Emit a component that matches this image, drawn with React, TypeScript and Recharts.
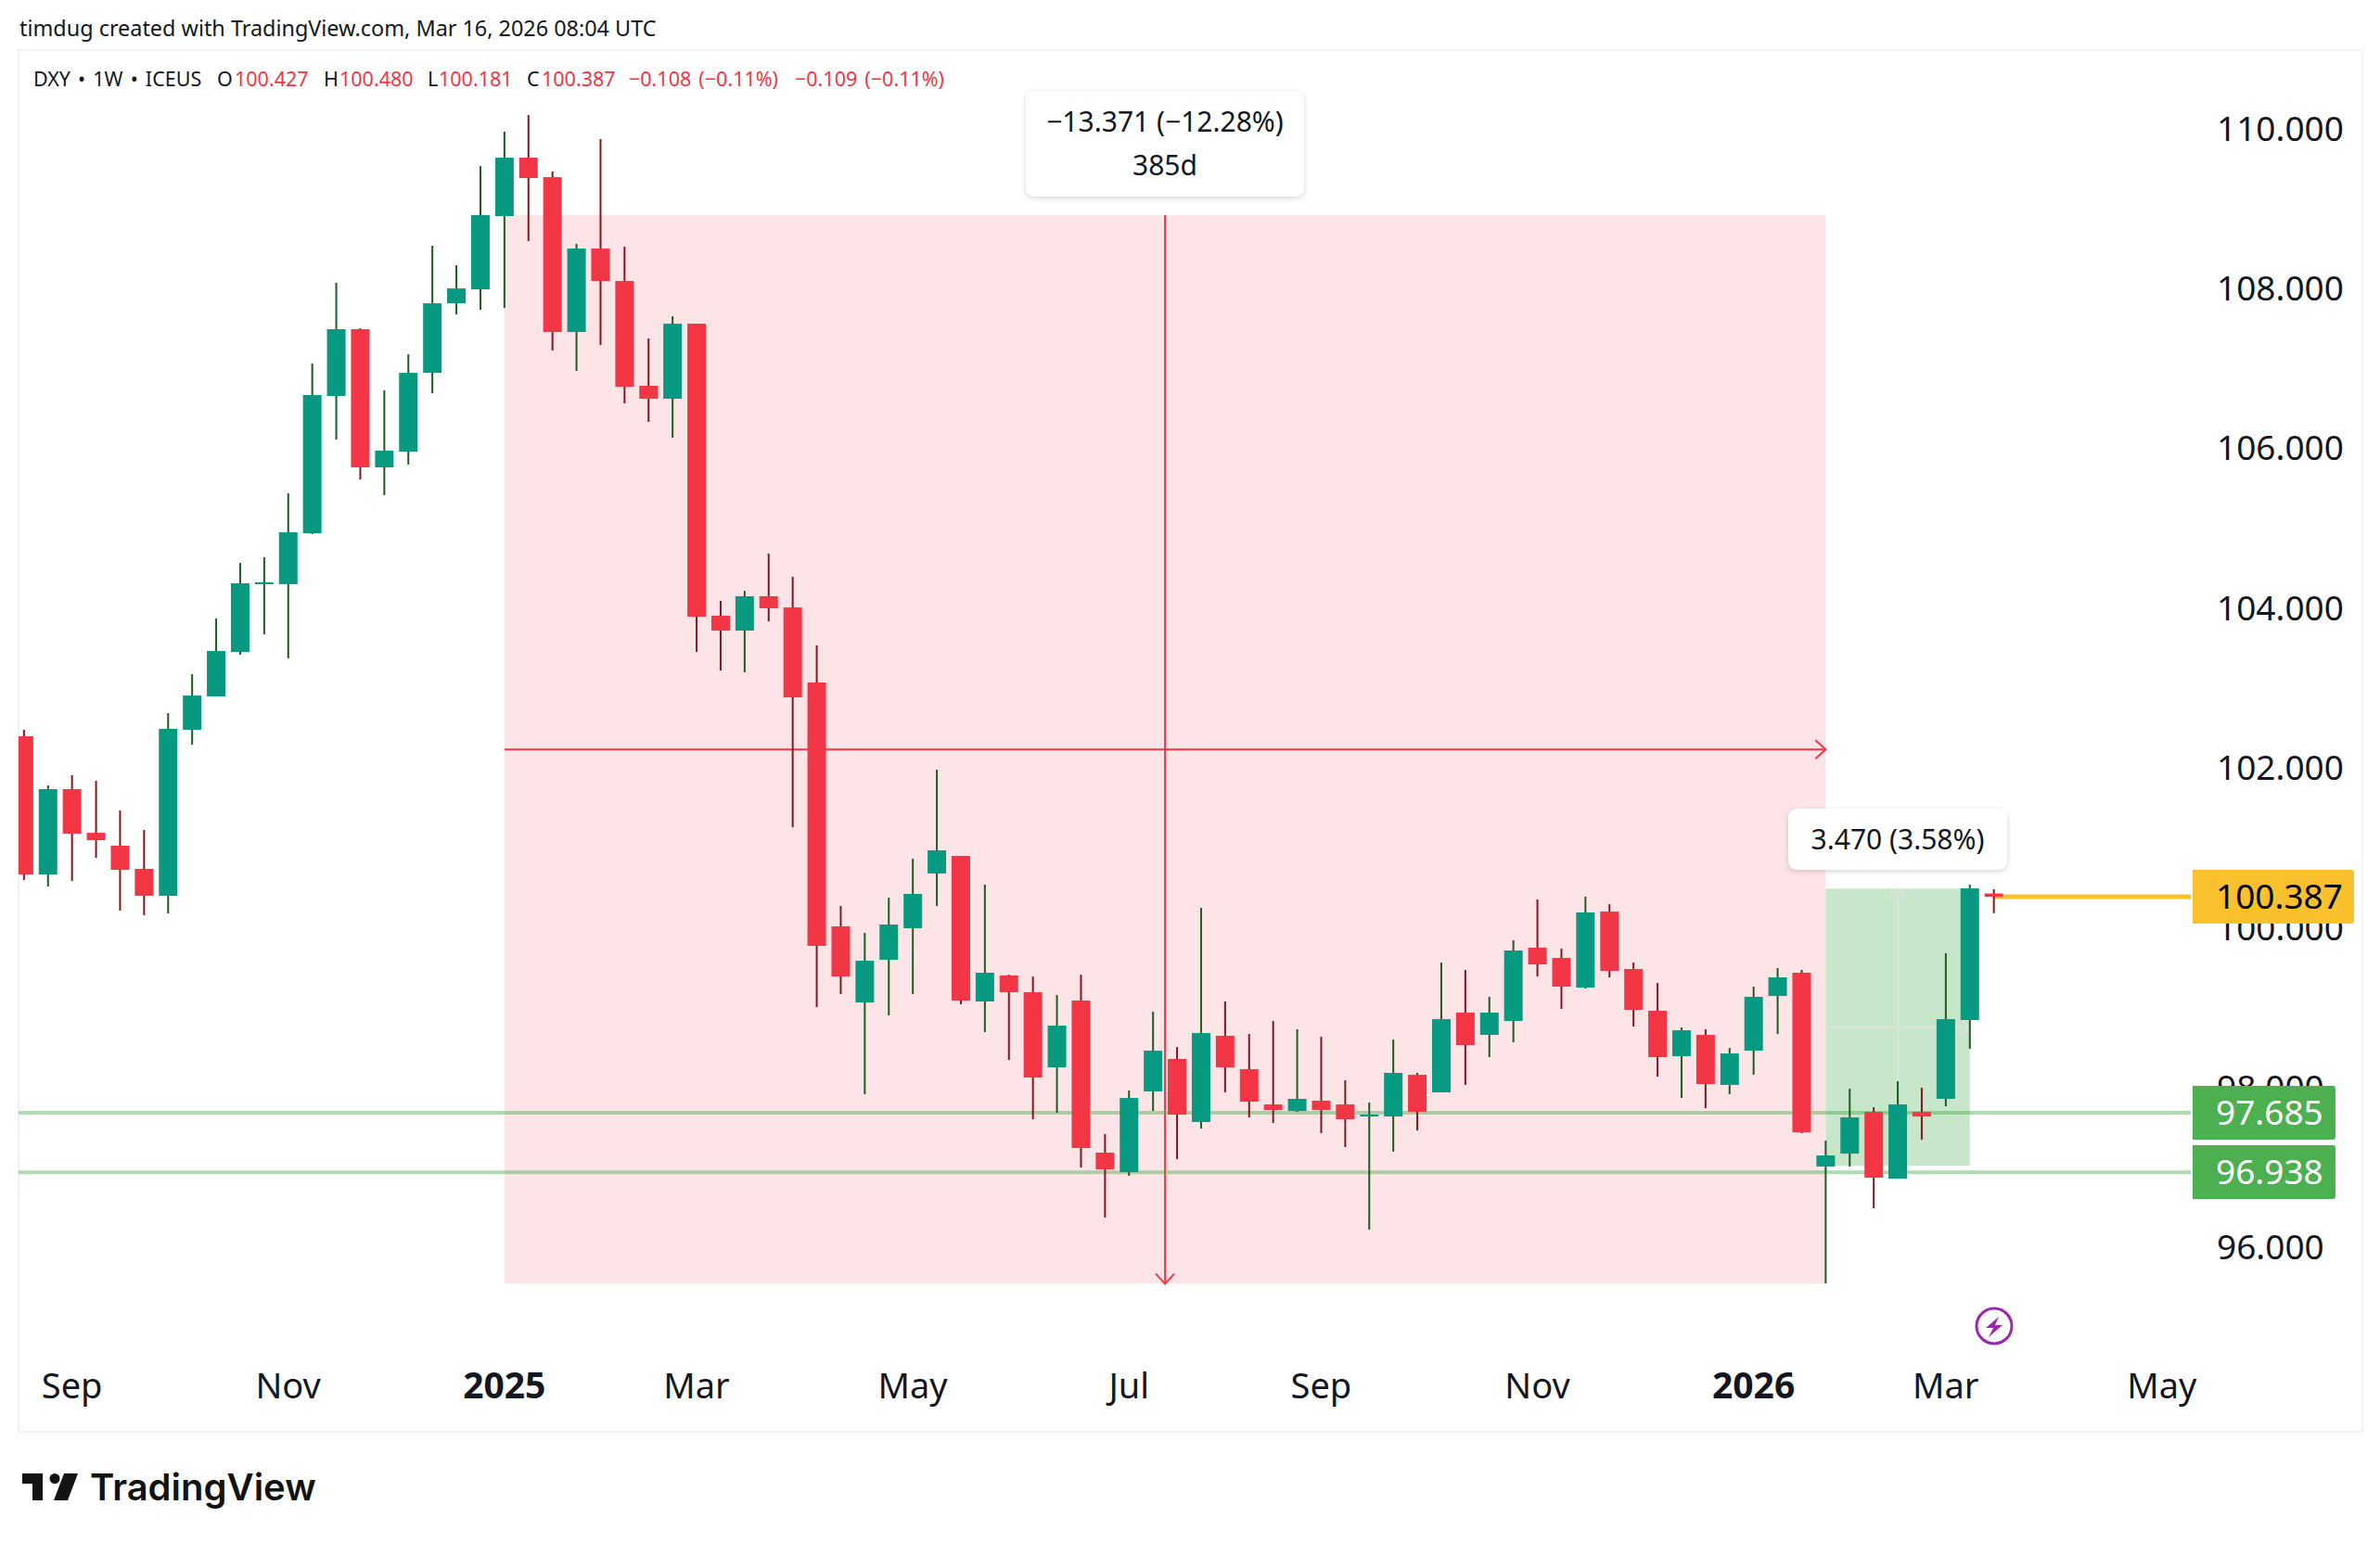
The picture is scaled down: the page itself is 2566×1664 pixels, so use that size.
import { ComposedChart, Bar, XAxis, YAxis, ReferenceArea, ReferenceLine } from 'recharts'

// weekly DXY candles, oldest first
const opens = [
  102.394, 100.665, 101.733, 101.187, 101.025, 100.735, 100.398, 102.475, 102.893, 103.45, 104.296, 104.296,
  104.934, 106.651, 107.487, 105.758, 105.955, 106.941, 107.811, 107.985, 108.902, 109.633, 109.389, 107.452,
  108.496, 108.09, 106.779, 106.617, 107.556, 103.902, 103.716, 104.146, 104.006, 103.067, 100.016, 99.064,
  99.598, 99.992, 100.677, 100.897, 99.076, 99.401, 99.192, 98.252, 99.088, 97.185, 96.941, 97.951, 98.357,
  97.568, 98.647, 98.229, 97.788, 97.707, 97.835, 97.788, 97.637, 97.637, 98.159, 97.939, 98.937, 98.658,
  98.832, 99.749, 99.621, 99.25, 100.201, 99.482, 98.96, 98.391, 98.658, 98.032, 98.461, 99.145, 99.436,
  97.011, 97.173, 97.695, 96.86, 97.695, 97.858, 98.844, 100.427,
]
const highs = [
  102.475, 101.779, 101.907, 101.837, 101.466, 101.222, 102.684, 103.171, 103.867, 104.563, 104.633, 105.433,
  107.057, 108.067, 107.498, 106.721, 107.173, 108.531, 108.287, 109.528, 109.958, 110.166, 109.459, 108.554,
  109.865, 108.519, 107.371, 107.649, 107.556, 104.088, 104.215, 104.679, 104.389, 103.531, 100.271, 99.934,
  100.375, 100.862, 101.976, 100.897, 100.538, 99.412, 99.389, 99.157, 99.412, 97.417, 97.962, 98.948, 98.507,
  100.248, 99.076, 98.67, 98.832, 98.728, 98.635, 98.09, 97.812, 98.6, 98.183, 99.563, 99.47, 99.134, 99.842,
  100.352, 99.737, 100.387, 100.294, 99.563, 99.308, 98.751, 98.728, 98.496, 99.262, 99.494, 99.47, 97.336,
  97.985, 97.753, 98.078, 97.997, 99.679, 100.538, 100.48,
]
const lows = [
  100.596, 100.514, 100.584, 100.874, 100.213, 100.155, 100.178, 102.289, 102.893, 103.415, 103.67, 103.368,
  104.923, 106.106, 105.607, 105.41, 105.793, 106.686, 107.672, 107.73, 107.753, 108.589, 107.22, 106.965,
  107.289, 106.559, 106.327, 106.129, 103.45, 103.217, 103.194, 103.832, 101.257, 99.006, 99.169, 97.916,
  98.902, 99.169, 100.271, 99.041, 98.693, 98.345, 97.603, 97.684, 96.999, 96.373, 96.895, 97.707, 97.104,
  97.487, 97.939, 97.626, 97.556, 97.695, 97.429, 97.255, 96.222, 97.197, 97.463, 97.939, 98.032, 98.38,
  98.565, 99.389, 98.983, 99.238, 99.378, 98.763, 98.136, 97.869, 97.742, 97.916, 98.159, 98.67, 97.429,
  95.549, 97.011, 96.489, 96.86, 97.347, 97.765, 98.484, 100.181,
]
const closes = [
  100.665, 101.733, 101.176, 101.094, 100.723, 100.398, 102.487, 102.904, 103.461, 104.308, 104.32, 104.946,
  106.663, 107.487, 105.758, 105.967, 106.941, 107.811, 107.997, 108.914, 109.633, 109.378, 107.452, 108.496,
  108.09, 106.767, 106.617, 107.556, 103.89, 103.716, 104.146, 103.995, 102.881, 99.772, 99.389, 99.586,
  100.039, 100.422, 100.967, 99.088, 99.436, 99.192, 98.125, 98.774, 97.243, 96.976, 97.869, 98.461, 97.661,
  98.681, 98.252, 97.823, 97.719, 97.858, 97.719, 97.603, 97.661, 98.183, 97.695, 98.855, 98.531, 98.937,
  99.714, 99.54, 99.262, 100.19, 99.459, 98.972, 98.38, 98.716, 98.043, 98.426, 99.134, 99.378, 97.44, 97.15,
  97.626, 96.872, 97.788, 97.637, 98.855, 100.491, 100.387,
]

const xTicks = [2, 11, 20, 28, 37, 46, 54, 63, 72, 80, 89]
const xTickLabels = ['Sep', 'Nov', '2025', 'Mar', 'May', 'Jul', 'Sep', 'Nov', '2026', 'Mar', 'May']
const yTicks = [96, 98, 100, 102, 104, 106, 108, 110]

const supportLevels = [97.685, 96.938]
const lastPrice = 100.387

// measure tools: [start bar, end bar, low, high]
const downMeasure = [20, 75, 95.543, 108.914]
const upMeasure = [75, 81, 97.02, 100.49]

const legendItems = [
  { left: 36, text: 'DXY • 1W • ICEUS', color: '#131722' },
  { left: 234, text: 'O', color: '#131722' },
  { left: 253, text: '100.427', color: '#f23645' },
  { left: 349, text: 'H', color: '#131722' },
  { left: 366, text: '100.480', color: '#f23645' },
  { left: 461, text: 'L', color: '#131722' },
  { left: 473, text: '100.181', color: '#f23645' },
  { left: 568, text: 'C', color: '#131722' },
  { left: 584, text: '100.387', color: '#f23645' },
  { left: 678, text: '−0.108 (−0.11%)', color: '#f23645' },
  { left: 857, text: '−0.109 (−0.11%)', color: '#f23645' },
]

const FONT = '"Noto Sans", sans-serif'
const UP = '#089981'
const DOWN = '#f23645'
const UP_WICK = '#1b5e20'
const DOWN_WICK = '#801922'

const candles = opens.map((open, i) => ({
  i,
  open,
  high: highs[i],
  low: lows[i],
  close: closes[i],
  range: [lows[i], highs[i]],
}))

const Candle = (props: any) => {
  const { x, y, width, height, payload } = props
  const { open, high, low, close } = payload
  const perUnit = height / (high - low)
  const up = close >= open
  const top = y + (high - Math.max(open, close)) * perUnit
  const bodyHeight = Math.max(Math.abs(close - open) * perUnit, 2)
  return (
    <g>
      <rect x={x + width / 2 - 1} y={y} width={2} height={height} fill={up ? UP_WICK : DOWN_WICK} />
      <rect x={x} y={top} width={width} height={bodyHeight} fill={up ? UP : DOWN} />
    </g>
  )
}

const ArrowLine = (props: any) => {
  const { x1, y1, x2, y2, stroke } = props
  const horizontal = Math.abs(y2 - y1) < 1
  const dir = horizontal ? Math.sign(x2 - x1) : Math.sign(y2 - y1)
  const head = horizontal
    ? `${x2 - dir * 11},${y2 - 10} ${x2},${y2} ${x2 - dir * 11},${y2 + 10}`
    : `${x2 - 10},${y2 - dir * 11} ${x2},${y2} ${x2 + 10},${y2 - dir * 11}`
  return (
    <g>
      <line x1={x1} y1={y1} x2={x2} y2={y2} stroke={stroke} strokeWidth={2} />
      <polyline points={head} fill="none" stroke={stroke} strokeWidth={2} />
    </g>
  )
}

const TimeTick = ({ x, y, payload }: any) => {
  const label = xTickLabels[xTicks.indexOf(payload.value)]
  const isYear = /^\d+$/.test(label)
  return (
    <text x={x} y={y} textAnchor="middle" fontFamily={FONT} fontSize={isYear ? 39 : 38} fontWeight={isYear ? 700 : 400} fill="#131722">
      {label}
    </text>
  )
}

const PriceTag = ({ top, width, bg, color, text }: any) => (
  <div
    style={{
      position: 'absolute',
      left: 2364,
      top,
      width,
      height: 58,
      background: bg,
      color,
      borderRadius: '0 3px 3px 0',
      fontFamily: FONT,
      fontSize: 37,
      lineHeight: '56px',
      paddingLeft: 25,
      boxSizing: 'border-box',
    }}
  >
    {text}
  </div>
)

const Note = ({ left, top, width, height, lines }: any) => (
  <div
    style={{
      position: 'absolute',
      left,
      top,
      width,
      height,
      background: '#fff',
      borderRadius: 9,
      boxShadow: '0 2px 6px rgba(0,0,0,0.16)',
      fontFamily: FONT,
      fontSize: 30,
      lineHeight: '47px',
      color: '#131722',
      textAlign: 'center',
      paddingTop: 9,
      boxSizing: 'border-box',
    }}
  >
    {lines.map((l: string) => (
      <div key={l}>{l}</div>
    ))}
  </div>
)

export default function App() {
  const mid = (m: number[]) => (m[2] + m[3]) / 2
  const midBar = (m: number[]) => (m[0] + m[1]) / 2

  return (
    <div style={{ position: 'absolute', left: 0, top: 0, width: 2566, height: 1664, background: '#fff', overflow: 'hidden' }}>
      <div style={{ position: 'absolute', left: 21, top: 12, fontFamily: FONT, fontSize: 23.4, lineHeight: '36px', color: '#131722', whiteSpace: 'nowrap' }}>
        timdug created with TradingView.com, Mar 16, 2026 08:04 UTC
      </div>

      {/* chart frame */}
      <div style={{ position: 'absolute', left: 19, top: 53, width: 2529, height: 1492, border: '2px solid #f0f3fa', boxSizing: 'border-box' }} />

      <div style={{ position: 'absolute', left: 0, top: 0 }}>
        <ComposedChart
          width={2566}
          height={1664}
          data={candles}
          margin={{ top: 54, right: 18, bottom: 119, left: 20 }}
        >
          <XAxis
            dataKey="i"
            type="number"
            domain={[-0.224, 90.2]}
            allowDataOverflow
            ticks={xTicks}
            interval={0}
            axisLine={false}
            tickLine={false}
            height={85}
            tickMargin={42}
            tick={<TimeTick />}
          />
          <YAxis
            orientation="right"
            domain={[94.668, 110.979]}
            allowDataOverflow
            ticks={yTicks}
            interval={0}
            width={186}
            axisLine={false}
            tickLine={false}
            tickMargin={22}
            tickFormatter={(v: number) => v.toFixed(3)}
            tick={{ fontFamily: FONT, fontSize: 37, fill: '#131722', textAnchor: 'start' }}
          />

          <ReferenceArea
            x1={downMeasure[0]}
            x2={downMeasure[1]}
            y1={downMeasure[2]}
            y2={downMeasure[3]}
            fill="#fde4e7"
            fillOpacity={1}
            stroke="none"
          />
          <ReferenceArea
            x1={upMeasure[0]}
            x2={upMeasure[1]}
            y1={upMeasure[2]}
            y2={upMeasure[3]}
            fill="#c8e6c9"
            fillOpacity={1}
            stroke="none"
          />
          <ReferenceLine
            segment={[{ x: downMeasure[0], y: mid(downMeasure) }, { x: downMeasure[1], y: mid(downMeasure) }]}
            stroke={DOWN}
            shape={<ArrowLine />}
            zIndex={100}
          />
          <ReferenceLine
            segment={[{ x: midBar(downMeasure), y: downMeasure[3] }, { x: midBar(downMeasure), y: downMeasure[2] }]}
            stroke={DOWN}
            shape={<ArrowLine />}
            zIndex={100}
          />
          <ReferenceLine
            segment={[{ x: upMeasure[0], y: mid(upMeasure) }, { x: upMeasure[1], y: mid(upMeasure) }]}
            stroke="#dde3dd"
            shape={<ArrowLine />}
            zIndex={100}
          />
          <ReferenceLine
            segment={[{ x: midBar(upMeasure), y: upMeasure[2] }, { x: midBar(upMeasure), y: upMeasure[3] }]}
            stroke="#dde3dd"
            shape={<ArrowLine />}
            zIndex={100}
          />
          {supportLevels.map((level) => (
            <ReferenceLine key={level} y={level} stroke="#4caf50" strokeOpacity={0.45} strokeWidth={4} zIndex={100} />
          ))}
          <ReferenceLine
            segment={[{ x: 82, y: lastPrice }, { x: 90.2, y: lastPrice }]}
            stroke="#fbc02d"
            strokeWidth={5}
            zIndex={100}
          />

          <Bar dataKey="range" barSize={20} shape={<Candle />} isAnimationActive={false} />
        </ComposedChart>
      </div>

      {/* legend row */}
      {legendItems.map((item) => (
        <span
          key={item.left}
          style={{ position: 'absolute', left: item.left, top: 68, fontFamily: FONT, fontSize: 21.5, wordSpacing: 2.5, lineHeight: '34px', color: item.color, whiteSpace: 'nowrap' }}
        >
          {item.text}
        </span>
      ))}

      <PriceTag top={938} width={174} bg="#fbc02d" color="#000" text="100.387" />
      <PriceTag top={1171} width={154} bg="#4caf50" color="#fff" text="97.685" />
      <PriceTag top={1235} width={154} bg="#4caf50" color="#fff" text="96.938" />

      <Note left={1106} top={98} width={300} height={114} lines={['−13.371 (−12.28%)', '385d']} />
      <Note left={1928} top={872} width={236} height={66} lines={['3.470 (3.58%)']} />

      {/* dividend marker */}
      <svg style={{ position: 'absolute', left: 2128, top: 1408 }} width={44} height={44} viewBox="-22 -22 44 44">
        <circle r={19} fill="none" stroke="#9c27b0" strokeWidth={3} />
        <polygon points="5,-10 -9,2 -1,2 -6,12 9,-1 1,-1" fill="#9c27b0" />
      </svg>

      {/* logo */}
      <svg style={{ position: 'absolute', left: 20, top: 1585 }} width={70} height={38}>
        <path d="M4 4H26V33H15V15H4Z" fill="#131313" />
        <circle cx={39} cy={9.5} r={5.5} fill="#131313" />
        <path d="M49 4H64L53 33H38Z" fill="#131313" />
      </svg>
      <div style={{ position: 'absolute', left: 97, top: 1579, fontFamily: 'Inter, sans-serif', fontWeight: 600, fontSize: 40, lineHeight: '50px', color: '#131313' }}>
        TradingView
      </div>
    </div>
  )
}
